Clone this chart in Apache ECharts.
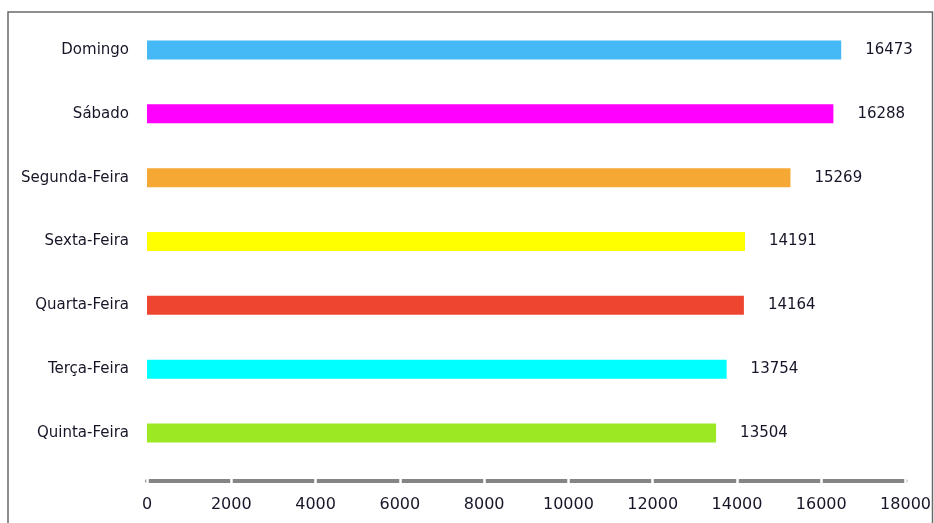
<!DOCTYPE html>
<html>
<head>
<meta charset="utf-8">
<script src="https://cdn.jsdelivr.net/npm/echarts@6/dist/echarts.min.js"></script>
<style>
  html, body { margin: 0; padding: 0; background: #ffffff; }
  #chart { width: 934px; height: 523px; }
</style>
</head>
<body>
<div id="chart"></div>
<script>
// Days of the week, listed top to bottom
const days = ['Domingo', 'Sábado', 'Segunda-Feira', 'Sexta-Feira', 'Quarta-Feira', 'Terça-Feira', 'Quinta-Feira'];
const totals = [16473, 16288, 15269, 14191, 14164, 13754, 13504];
const barColors = ['#45b9f5', '#ff00ff', '#f5a833', '#ffff00', '#ee4530', '#00ffff', '#9be823'];
const xTicks = [0, 2000, 4000, 6000, 8000, 10000, 12000, 14000, 16000, 18000];

const chart = echarts.init(document.getElementById('chart'), null, { renderer: 'canvas' });
const labelFont = 'Tahoma, "DejaVu Sans", sans-serif';
const textColor = '#161628';

const valueRange = {
  type: 'value',
  min: xTicks[0],
  max: xTicks[xTicks.length - 1],
  interval: xTicks[1] - xTicks[0],
  splitLine: { show: false }
};

chart.setOption({
  animation: false,
  backgroundColor: '#ffffff',
  graphic: [{
    type: 'rect',
    shape: { x: 8, y: 12, width: 924.5, height: 540 },
    style: { fill: 'none', stroke: '#6a6a6a', lineWidth: 1.5 },
    silent: true
  }],
  grid: { left: 147, right: 28, top: 18, bottom: 58, containLabel: false },
  xAxis: [
    Object.assign({}, valueRange, {
      position: 'bottom',
      offset: 16,
      z: 2,
      axisLine: { show: true, lineStyle: { color: '#858585', width: 4 } },
      axisTick: { show: false },
      axisLabel: {
        color: textColor, fontSize: 16, fontFamily: labelFont, margin: 16,
        formatter: v => String(v)
      }
    }),
    // white notches cut across the grey axis bar at each tick
    Object.assign({}, valueRange, {
      position: 'bottom',
      offset: 19,
      z: 5,
      axisLine: { show: false },
      axisTick: { show: true, inside: true, length: 7, lineStyle: { color: '#ffffff', width: 2.5 } },
      axisLabel: { show: false }
    })
  ],
  yAxis: {
    type: 'category',
    data: days,
    inverse: true,
    axisLine: { show: false },
    axisTick: { show: false },
    axisLabel: { color: textColor, fontSize: 15, fontFamily: labelFont, margin: 18 }
  },
  series: [{
    type: 'bar',
    xAxisIndex: 0,
    data: totals.map((v, i) => ({ value: v, itemStyle: { color: barColors[i] } })),
    barWidth: 19,
    label: {
      show: true,
      position: 'right',
      distance: 24,
      color: textColor,
      fontSize: 15,
      fontFamily: labelFont
    }
  }]
});
</script>
</body>
</html>
